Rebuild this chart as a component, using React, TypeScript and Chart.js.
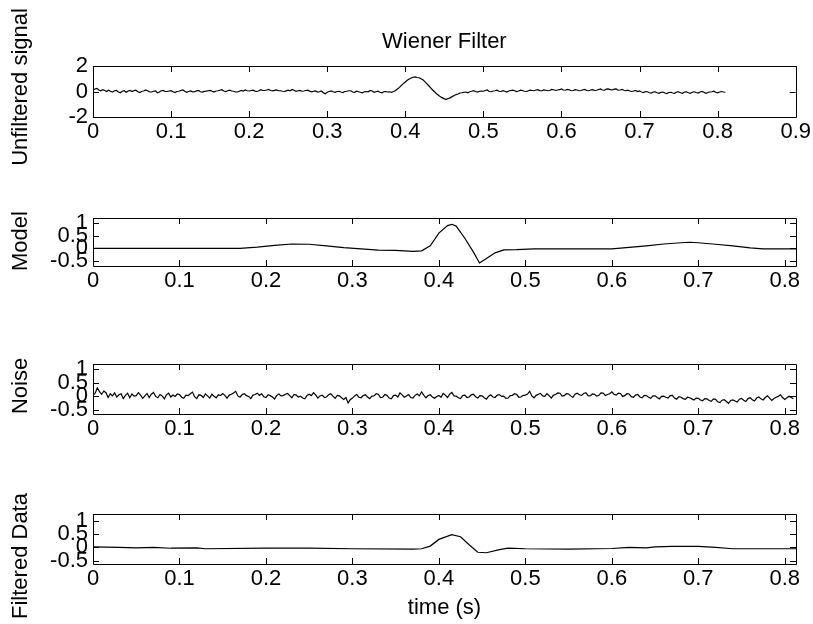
import React, { useEffect, useRef } from "react";
import { Chart, registerables } from "chart.js";

Chart.register(...registerables);

// ---------- data ----------
const DT = 0.0025; // sample spacing (s) of the noisy series

const UNFILTERED = [
  .10, .20, .25, .12, .05, .15, .08, .00, .10, .02,
  -.05, .06, .08, -.04, -.10, .02, .06, -.06, .04, .08,
  .00, .07, .10, -.02, -.08, .02, .04, .12, .06, -.04,
  -.04, .02, .05, -.10, -.04, .06, .08, .00, .00, .04,
  .06, -.02, -.08, .00, .02, .08, .12, .02, -.06, .00,
  .04, -.03, -.02, .05, .08, -.02, -.05, .01, .03, .06,
  .09, .02, -.04, .04, .06, .10, .14, .04, .00, .06,
  .10, .04, .02, -.04, -.04, .02, .08, .04, .12, .06,
  .04, .08, .10, .03, .00, .06, .14, .08, .08, .12,
  .16, .08, .05, .09, .12, .06, .06, .02, .00, .05,
  .10, .06, .16, .10, .02, .06, .08, .02, .04, .08,
  .10, .03, -.02, .02, .04, -.04, -.02, .04, -.10, -.18,
  -.06, .00, .04, -.02, -.06, .00, .02, -.04, -.08, .00,
  .02, .06, .06, -.04, -.06, .02, -.02, -.06, -.10, -.02,
  .00, -.02, .08, .04, -.06, -.02, .02, -.06, -.10, -.02,
  .00, -.04, -.02, -.06, .00, .08, .20, .32, .48, .62,
  .75, .88, .98, 1.06, 1.12, 1.15, 1.10, 1.08, 1.00, .92,
  .78, .62, .45, .28, .12, -.02, -.18, -.30, -.42, -.50,
  -.58, -.62, -.55, -.50, -.40, -.32, -.24, -.20, -.12, -.10,
  -.06, -.04, -.10, -.02, .02, .06, .00, -.04, .02, .04,
  .02, .08, .12, .00, -.02, .04, .06, .10, .02, .00,
  .06, .02, -.04, .04, .08, .10, .06, .00, .04, .10,
  .08, .02, .00, .06, .10, .08, .06, .12, .14, .06,
  .06, .12, .10, .06, .08, .16, .14, .08, .12, .14,
  .20, .12, .10, .16, .14, .06, .08, .14, .12, .06,
  .08, .14, .16, .08, .06, .12, .14, .08, .10, .16,
  .20, .12, .10, .18, .20, .14, .12, .18, .20, .10,
  .12, .16, .10, .06, .10, .04, .00, .04, .08, .00,
  .04, -.04, -.08, .00, -.02, -.10, -.12, -.04, -.02, -.10,
  -.14, -.06, -.04, -.12, -.16, -.08, -.06, -.12, -.14, -.04,
  -.02, -.10, -.14, -.04, -.02, -.10, -.14, -.06, -.02, -.08,
  -.12, -.04, .00, -.06, -.14, -.08, -.04, -.02, .02, -.06,
  -.10, -.04, .00, -.04, -.06,
];

const NOISE = [
  .05, .12, .32, .18, .08, .20, .14, -.04, .10, .02,
  .13, -.02, .06, .10, -.08, .04, .12, -.05, .09, .01,
  .03, .14, .05, -.07, .02, .11, -.04, .08, .15, .00,
  -.05, .07, .02, -.09, .06, .12, -.02, .05, .00, .09,
  .07, -.03, -.07, .05, .03, .10, .16, -.01, -.08, .06,
  .04, -.04, .09, .02, -.06, .08, .01, -.05, .06, .03,
  .11, .04, -.07, .05, .08, .13, .19, .02, -.03, .07,
  .10, .03, .00, -.08, .05, .07, .12, .04, .10, -.01,
  -.04, .06, .03, -.02, -.10, .04, .09, .02, .03, .08,
  .11, .03, -.05, .07, .05, -.02, .01, -.06, -.09, .04,
  .08, .03, .14, .06, -.06, .02, .05, -.03, -.02, .06,
  .10, .01, -.07, .04, .02, -.05, -.11, -.04, -.24, -.12,
  -.06, .02, .07, -.03, -.05, .03, .06, -.02, -.08, .01,
  .02, .10, .08, -.04, -.03, .07, .04, -.06, -.09, .03,
  .05, -.02, .13, .06, -.03, .02, .07, -.04, -.06, .04,
  .09, .02, .17, .05, -.05, .03, .06, -.02, -.07, .00,
  .04, -.03, .11, .05, -.04, .08, .15, .02, .01, -.05,
  -.08, .03, .05, -.04, -.02, .06, .08, -.01, -.06, .03,
  .02, -.05, -.10, .01, .06, -.02, -.04, .05, .07, .00,
  .01, -.07, -.06, .03, .04, .10, .07, -.03, -.02, .04,
  .05, .09, .19, .02, -.05, .04, .08, .11, .02, .00,
  .10, .03, -.06, .05, .07, .13, .12, .01, .03, .10,
  .09, .02, -.04, .08, .12, .06, .04, .11, .14, .03,
  .02, .09, .08, .01, .04, .13, .12, .03, .07, .10,
  .17, .08, .05, .12, .11, .00, .03, .10, .09, -.01,
  -.03, .05, .07, -.02, -.05, .04, .03, -.03, -.07, .02,
  .02, -.04, -.09, .00, .01, -.03, -.06, .03, .04, -.06,
  -.10, -.01, -.03, -.08, -.11, -.03, -.05, -.09, -.13, -.06,
  -.07, -.13, -.16, -.08, -.09, -.15, -.18, -.09, -.11, -.20,
  -.23, -.14, -.12, -.19, -.26, -.15, -.13, -.17, -.21, -.10,
  -.07, -.14, -.19, -.08, -.05, -.12, -.17, -.06, -.02, -.09,
  -.13, -.04, .02, -.06, -.15, -.08, -.03, .00, .06, -.04,
  -.11, -.05, .01, -.04, -.09,
];

const MODEL_T = [
  0, 0.17, 0.19, 0.21, 0.23, 0.25, 0.27, 0.29, 0.31, 0.33, 0.35, 0.37, 0.38,
  0.39, 0.40, 0.41, 0.415, 0.42, 0.43, 0.44, 0.447, 0.455, 0.465, 0.475, 0.49,
  0.51, 0.60, 0.62, 0.64, 0.66, 0.68, 0.69, 0.70, 0.72, 0.74, 0.76, 0.775, 0.813,
];
const MODEL_Y = [
  0, 0, 0.05, 0.12, 0.17, 0.16, 0.10, 0.03, -0.02, -0.07, -0.08, -0.12, -0.10,
  0.10, 0.60, 0.90, 0.95, 0.88, 0.40, -0.15, -0.58, -0.40, -0.18, -0.06, -0.05,
  -0.02, -0.02, 0.04, 0.10, 0.17, 0.22, 0.24, 0.22, 0.16, 0.10, 0.02, -0.02, -0.02,
];

const FILTERED_T = [
  0, 0.03, 0.05, 0.07, 0.09, 0.12, 0.13, 0.2, 0.25, 0.3, 0.37, 0.38, 0.39, 0.40,
  0.415, 0.425, 0.435, 0.445, 0.455, 0.47, 0.48, 0.5, 0.55, 0.6, 0.62, 0.64, 0.65,
  0.67, 0.7, 0.72, 0.74, 0.813,
];
const FILTERED_Y = [
  0.02, 0.0, -0.02, 0.0, -0.03, -0.02, -0.05, -0.03, -0.03, -0.05, -0.06, -0.05,
  0.05, 0.3, 0.48, 0.4, 0.1, -0.18, -0.2, -0.08, -0.03, -0.05, -0.06, -0.04, 0.0,
  -0.02, 0.02, 0.04, 0.04, 0.0, -0.05, -0.05,
];

const X_TICKS_A = [0, 0.1, 0.2, 0.3, 0.4, 0.5, 0.6, 0.7, 0.8, 0.9];
const X_LABELS_A = ["0", "0.1", "0.2", "0.3", "0.4", "0.5", "0.6", "0.7", "0.8", "0.9"];
const X_TICKS_B = [0, 0.1, 0.2, 0.3, 0.4, 0.5, 0.6, 0.7, 0.8];
const X_LABELS_B = ["0", "0.1", "0.2", "0.3", "0.4", "0.5", "0.6", "0.7", "0.8"];
const Y_TICKS_A = [-2, 0, 2];
const Y_LABELS_A = ["-2", "0", "2"];
const Y_TICKS_B = [-0.5, 0, 0.5, 1];
const Y_LABELS_B = ["-0.5", "0", "0.5", "1"];

const TITLE = "Wiener Filter";
const X_TITLE = "time (s)";
const Y_TITLES = ["Unfiltered signal", "Model", "Noise", "Filtered Data"];

// ---------- layout ----------
const W = 813;
const H = 624;
const FONT = "'Liberation Sans', Arial, Helvetica, sans-serif";
const TICK_FONT = 22;
const LABEL_FONT = 22;

const sampled = (vals: number[]) => vals.map((v, i) => ({ x: i * DT, y: v }));
const paired = (ts: number[], ys: number[]) => ts.map((t, i) => ({ x: t, y: ys[i] }));

type PanelCfg = {
  top: number;
  bottom: number;
  xMax: number;
  yMin: number;
  yMax: number;
  xTicks: number[];
  xLabels: string[];
  yTicks: number[];
  yLabels: string[];
  yTitle: string;
  yTitleY: number;
  points: { x: number; y: number }[];
  title?: string;
  xTitle?: string;
};

const PANELS: PanelCfg[] = [
  {
    top: 66, bottom: 117, xMax: 0.9, yMin: -2, yMax: 2,
    xTicks: X_TICKS_A, xLabels: X_LABELS_A, yTicks: Y_TICKS_A, yLabels: Y_LABELS_A,
    yTitle: Y_TITLES[0], yTitleY: 87, points: sampled(UNFILTERED), title: TITLE,
  },
  {
    top: 218, bottom: 266, xMax: 0.813, yMin: -0.7, yMax: 1.2,
    xTicks: X_TICKS_B, xLabels: X_LABELS_B, yTicks: Y_TICKS_B, yLabels: Y_LABELS_B,
    yTitle: Y_TITLES[1], yTitleY: 241, points: paired(MODEL_T, MODEL_Y),
  },
  {
    top: 364, bottom: 414, xMax: 0.813, yMin: -0.65, yMax: 1.2,
    xTicks: X_TICKS_B, xLabels: X_LABELS_B, yTicks: Y_TICKS_B, yLabels: Y_LABELS_B,
    yTitle: Y_TITLES[2], yTitleY: 386, points: sampled(NOISE),
  },
  {
    top: 514, bottom: 564, xMax: 0.813, yMin: -0.62, yMax: 1.25,
    xTicks: X_TICKS_B, xLabels: X_LABELS_B, yTicks: Y_TICKS_B, yLabels: Y_LABELS_B,
    yTitle: Y_TITLES[3], yTitleY: 556, points: paired(FILTERED_T, FILTERED_Y), xTitle: X_TITLE,
  },
];

function Panel({ cfg }: { cfg: PanelCfg }) {
  const ref = useRef<HTMLCanvasElement | null>(null);

  useEffect(() => {
    if (!ref.current) return;
    const TICK = 6;
    const frame = {
      id: "matlabFrame",
      afterDraw(chart: any) {
        const { ctx, chartArea: a, scales } = chart;
        const xs = scales.x;
        const ys = scales.y;
        ctx.save();
        ctx.strokeStyle = "#000";
        ctx.lineWidth = 1;
        ctx.beginPath();
        ctx.rect(Math.round(a.left) + 0.5, Math.round(a.top) + 0.5,
          Math.round(a.right - a.left), Math.round(a.bottom - a.top));
        for (const t of xs.ticks) {
          const px = Math.round(xs.getPixelForValue(t.value)) + 0.5;
          ctx.moveTo(px, a.bottom);
          ctx.lineTo(px, a.bottom - TICK);
          ctx.moveTo(px, a.top);
          ctx.lineTo(px, a.top + TICK);
        }
        for (const t of ys.ticks) {
          const py = Math.round(ys.getPixelForValue(t.value)) + 0.5;
          ctx.moveTo(a.left, py);
          ctx.lineTo(a.left + TICK, py);
          ctx.moveTo(a.right, py);
          ctx.lineTo(a.right - TICK, py);
        }
        ctx.stroke();
        ctx.fillStyle = "#000";
        ctx.font = `${LABEL_FONT}px ${FONT}`;
        ctx.textAlign = "center";
        ctx.textBaseline = "middle";
        if (cfg.title) {
          ctx.fillText(cfg.title, (a.left + a.right) / 2, 42);
        }
        ctx.save();
        ctx.translate(21, cfg.yTitleY);
        ctx.rotate(-Math.PI / 2);
        ctx.fillText(cfg.yTitle, 0, 0);
        ctx.restore();
        ctx.restore();
      },
    };

    const chart = new Chart(ref.current, {
      type: "line",
      data: {
        datasets: [
          {
            data: cfg.points,
            borderColor: "#000",
            borderWidth: 1.2,
            pointRadius: 0,
            tension: 0,
            fill: false,
          },
        ],
      },
      options: {
        animation: false,
        responsive: false,
        maintainAspectRatio: false,
        devicePixelRatio: 1,
        layout: { padding: { top: cfg.top, right: 17, left: 0, bottom: 0 } },
        plugins: { legend: { display: false }, tooltip: { enabled: false }, title: { display: false } },
        scales: {
          x: {
            type: "linear",
            min: 0,
            max: cfg.xMax,
            grid: { display: false, drawTicks: false },
            border: { display: false },
            afterBuildTicks: (s: any) => {
              s.ticks = cfg.xTicks.map((v) => ({ value: v }));
            },
            afterFit: (s: any) => {
              s.height = H - cfg.bottom;
            },
            ticks: {
              autoSkip: false,
              maxRotation: 0,
              minRotation: 0,
              padding: 2,
              color: "#000",
              font: { family: FONT, size: TICK_FONT },
              callback: (_v: any, i: number) => cfg.xLabels[i],
            },
            title: {
              display: !!cfg.xTitle,
              text: cfg.xTitle || "",
              color: "#000",
              font: { family: FONT, size: LABEL_FONT },
              padding: { top: 0, bottom: 3 },
            },
          },
          y: {
            type: "linear",
            min: cfg.yMin,
            max: cfg.yMax,
            grid: { display: false, drawTicks: false },
            border: { display: false },
            afterBuildTicks: (s: any) => {
              s.ticks = cfg.yTicks.map((v) => ({ value: v }));
            },
            afterFit: (s: any) => {
              s.width = 93;
            },
            ticks: {
              autoSkip: false,
              padding: 5,
              color: "#000",
              font: { family: FONT, size: TICK_FONT },
              callback: (_v: any, i: number) => cfg.yLabels[i],
            },
            title: { display: false },
          },
        },
      },
      plugins: [frame],
    } as any);

    return () => chart.destroy();
  }, [cfg]);

  return (
    <canvas
      ref={ref}
      width={W}
      height={H}
      style={{ position: "absolute", left: 0, top: 0, width: W, height: H }}
    />
  );
}

export default function App() {
  return (
    <div
      style={{
        position: "absolute",
        left: 0,
        top: 0,
        width: W,
        height: H,
        background: "#fff",
        overflow: "hidden",
      }}
    >
      {PANELS.map((p, i) => (
        <Panel key={i} cfg={p} />
      ))}
    </div>
  );
}
